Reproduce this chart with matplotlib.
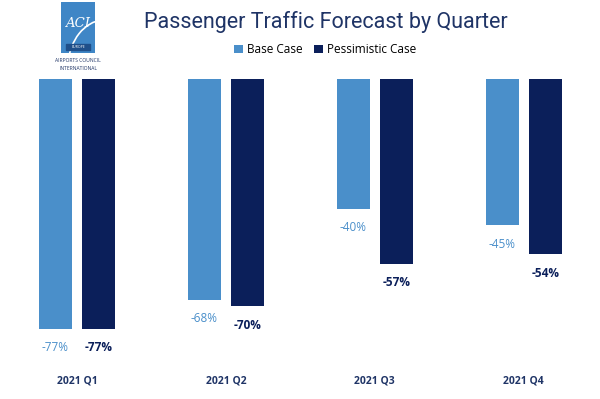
import matplotlib.pyplot as plt
from matplotlib.patches import Rectangle, Arc

quarters = ['2021 Q1', '2021 Q2', '2021 Q3', '2021 Q4']
base_case = [-77, -68, -40, -45]
pessimistic_case = [-77, -70, -57, -54]

base_color = '#4a8fca'
pess_color = '#0b1f5a'
navy = '#1f3466'

plt.rcParams['font.family'] = ['Open Sans', 'DejaVu Sans']

fig = plt.figure(figsize=(6, 3.99), dpi=100)
ax = fig.add_axes([0.004, 0.070, 0.993, 0.732])

x = range(len(quarters))
w = 0.22
off = 0.145
bars_b = ax.bar([i - off for i in x], base_case, w, color=base_color, label='Base Case')
bars_p = ax.bar([i + off for i in x], pessimistic_case, w, color=pess_color, label='Pessimistic Case')

for i, v in enumerate(base_case):
    ax.annotate(f'{v}%', (i - off, v), xytext=(0, -9), textcoords='offset points',
                ha='center', va='top', fontsize=8.5, color=base_color)
for i, v in enumerate(pessimistic_case):
    ax.annotate(f'{v}%', (i + off, v), xytext=(0, -9), textcoords='offset points',
                ha='center', va='top', fontsize=8.5, color=pess_color, fontweight='bold')
for i, q in enumerate(quarters):
    ax.text(i, -93, q, ha='center', va='center', fontsize=7.5, color=navy,
            fontweight='bold', clip_on=False)

ax.set_xlim(-0.5, 3.5)
ax.set_ylim(-90, 0)
ax.axis('off')

fig.text(0.543, 0.945, 'Passenger Traffic Forecast by Quarter', ha='center', va='center',
         fontsize=15.5, color=navy, family=['Roboto', 'DejaVu Sans'])
fig.legend(handles=[bars_b, bars_p], loc='center', bbox_to_anchor=(0.542, 0.875), ncol=2,
           frameon=False, fontsize=8.5, handlelength=0.7, handleheight=0.7,
           handletextpad=0.35, columnspacing=1.0)

# ACI Europe logo
lx = fig.add_axes([61 / 600, 1 - 53 / 399, 34 / 600, 51 / 399])
lx.set_xlim(0, 1)
lx.set_ylim(0, 1)
lx.axis('off')
lx.add_patch(Rectangle((0, 0), 1, 1, color='#3f86c6'))
lx.add_patch(Arc((1.3, -0.3), 2.2, 1.9, theta1=95, theta2=175, color='white', lw=1.2))
lx.text(0.5, 0.58, 'ACI', ha='center', va='center', color='white', fontsize=9.5,
        family='DejaVu Serif', style='italic')
lx.add_patch(Rectangle((0.15, 0.05), 0.7, 0.12, color='#1f4f8a'))
lx.text(0.5, 0.11, 'EUROPE', ha='center', va='center', color='white', fontsize=2.5)
fig.text(78 / 600, 1 - 60 / 399, 'AIRPORTS COUNCIL', ha='center', va='center',
         fontsize=3.6, color=navy)
fig.text(78 / 600, 1 - 69 / 399, 'INTERNATIONAL', ha='center', va='center',
         fontsize=3.6, color=navy)

fig.savefig('out.png', dpi=100)
